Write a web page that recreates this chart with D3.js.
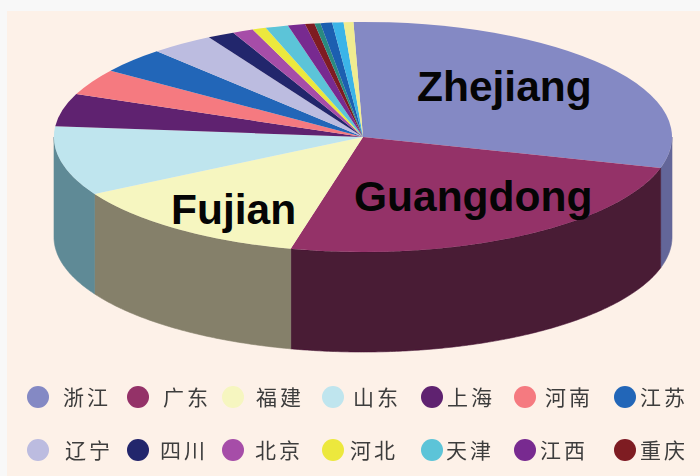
<!DOCTYPE html>
<html>
<head>
	<meta charset="utf-8">
	<script src="https://cdn.jsdelivr.net/npm/d3@7"></script>
	<style>
		html, body { margin: 0; padding: 0; background: #f8f8f8; }
		svg { display: block; }
	</style>
</head>
<body>
	<script type="text/javascript">

	// legend names, the last four slices have no legend entry
	var provinces = ["浙江", "广东", "福建", "山东", "上海", "河南", "江苏",
		"辽宁", "四川", "北京", "河北", "天津", "江西", "重庆"];
	// share of each slice in percent
	var shares = [29.8, 24.4, 13.0, 9.7, 4.6, 3.7, 3.6, 3.3, 1.4, 1.1, 0.7, 1.2, 0.9, 0.5, 0.3, 0.6, 0.6, 0.5];
	var topColors = ["#8489c4", "#943068", "#f6f6c0", "#bfe5ee", "#5e2270", "#f57a80", "#2166b8",
		"#bcbce0", "#23256c", "#a64ea8", "#ece83e", "#5cc4d8", "#782a90", "#7e1a24",
		"#2a8a80", "#1f5eb0", "#3ab4e8", "#f0ec90"];
	var wallColors = ["#636699", "#481a35", "#85806a", "#5f8a96"];
	var callouts = ["Zhejiang", "Guangdong", "Fujian"];

	var w = 700;
	var h = 476;
	var cx = 363, cy = 137, rx = 309, ry = 115, depth = 100;
	var startAngle = -1.8 * Math.PI / 180;

	var legendDotX = [38, 138, 233, 333, 432, 525, 625];
	var legendTextX = [[63, 163, 256, 353, 447, 545, 640], [65, 160, 255, 350, 446, 540, 640]];
	var legendRowY = [397, 450];
	var calloutPos = [[417, 101], [354, 211], [171, 224]];

	var svg = d3.select("body")
	.append("svg")
	.attr("width", w)
	.attr("height", h);

	var defs = svg.append("defs");
	defs.append("filter").attr("id", "soft")
	.append("feGaussianBlur").attr("stdDeviation", 0.6);

	// panel behind the chart, the picture has a pale strip top and left
	svg.append("rect")
	.attr("x", 7)
	.attr("y", 11)
	.attr("width", w - 7)
	.attr("height", h - 11)
	.attr("fill", "#fdf1e8");

	var pie = d3.pie()
	.sort(null)
	.startAngle(startAngle)
	.endAngle(startAngle + 2 * Math.PI);

	var slices = pie(shares);

	var xscale = d3.scaleLinear().domain([-1, 1]).range([cx - rx, cx + rx]);
	var yscale = d3.scaleLinear().domain([-1, 1]).range([cy - ry, cy + ry]);

	var chart = svg.append("g").attr("filter", "url(#soft)");

	// walls: only the front half of the rim can be seen
	var rim = d3.line()
	.x(function(d){ return xscale(Math.sin(d[0])); })
	.y(function(d){ return yscale(-Math.cos(d[0])) + d[1]; });

	function wallPath(d){
		var a0 = Math.max(d.startAngle, Math.PI / 2);
		var a1 = Math.min(d.endAngle, 3 * Math.PI / 2);
		var steps = d3.range(a0, a1, 0.01).concat([a1]);
		var upper = steps.map(function(a){ return [a, 0]; });
		var lower = steps.slice().reverse().map(function(a){ return [a, depth]; });
		return rim(upper.concat(lower)) + "Z";
	}

	chart.selectAll(".wall")
	.data(slices.slice(0, wallColors.length))
	.enter()
	.append("path")
	.attr("class", "wall")
	.attr("d", wallPath)
	.attr("fill", function(d, i){ return wallColors[i]; })
	.attr("stroke", function(d, i){ return wallColors[i]; })
	.attr("stroke-width", 0.6);

	// top face: unit pie squashed into the ellipse
	var arc = d3.arc().innerRadius(0).outerRadius(1);

	chart.append("g")
	.attr("transform", "translate(" + cx + "," + cy + ") scale(" + rx + "," + ry + ")")
	.selectAll("path")
	.data(slices)
	.enter()
	.append("path")
	.attr("d", arc)
	.attr("fill", function(d, i){ return topColors[i]; });

	svg.selectAll(".callout")
	.data(callouts)
	.enter()
	.append("text")
	.attr("class", "callout")
	.text(function(d){ return d; })
	.attr("x", function(d, i){ return calloutPos[i][0]; })
	.attr("y", function(d, i){ return calloutPos[i][1]; })
	.attr("font-family", "'Liberation Sans', Arial, sans-serif")
	.attr("font-weight", "bold")
	.attr("font-size", "42.5px")
	.attr("fill", "#050505");

	// legend, two rows of seven
	var legend = svg.append("g").attr("filter", "url(#soft)");

	var items = legend.selectAll("g")
	.data(provinces)
	.enter()
	.append("g");

	items.append("circle")
	.attr("cx", function(d, i){ return legendDotX[i % 7]; })
	.attr("cy", function(d, i){ return legendRowY[Math.floor(i / 7)]; })
	.attr("r", 11)
	.attr("fill", function(d, i){ return topColors[i]; });

	items.append("text")
	.text(function(d){ return d; })
	.attr("x", function(d, i){ return legendTextX[Math.floor(i / 7)][i % 7]; })
	.attr("y", function(d, i){ return legendRowY[Math.floor(i / 7)] + 8; })
	.attr("font-family", "'Noto Sans CJK SC', sans-serif")
	.attr("font-size", "21px")
	.attr("letter-spacing", "3px")
	.attr("fill", "#3c3c3c");

	</script>
</body>
</html>
